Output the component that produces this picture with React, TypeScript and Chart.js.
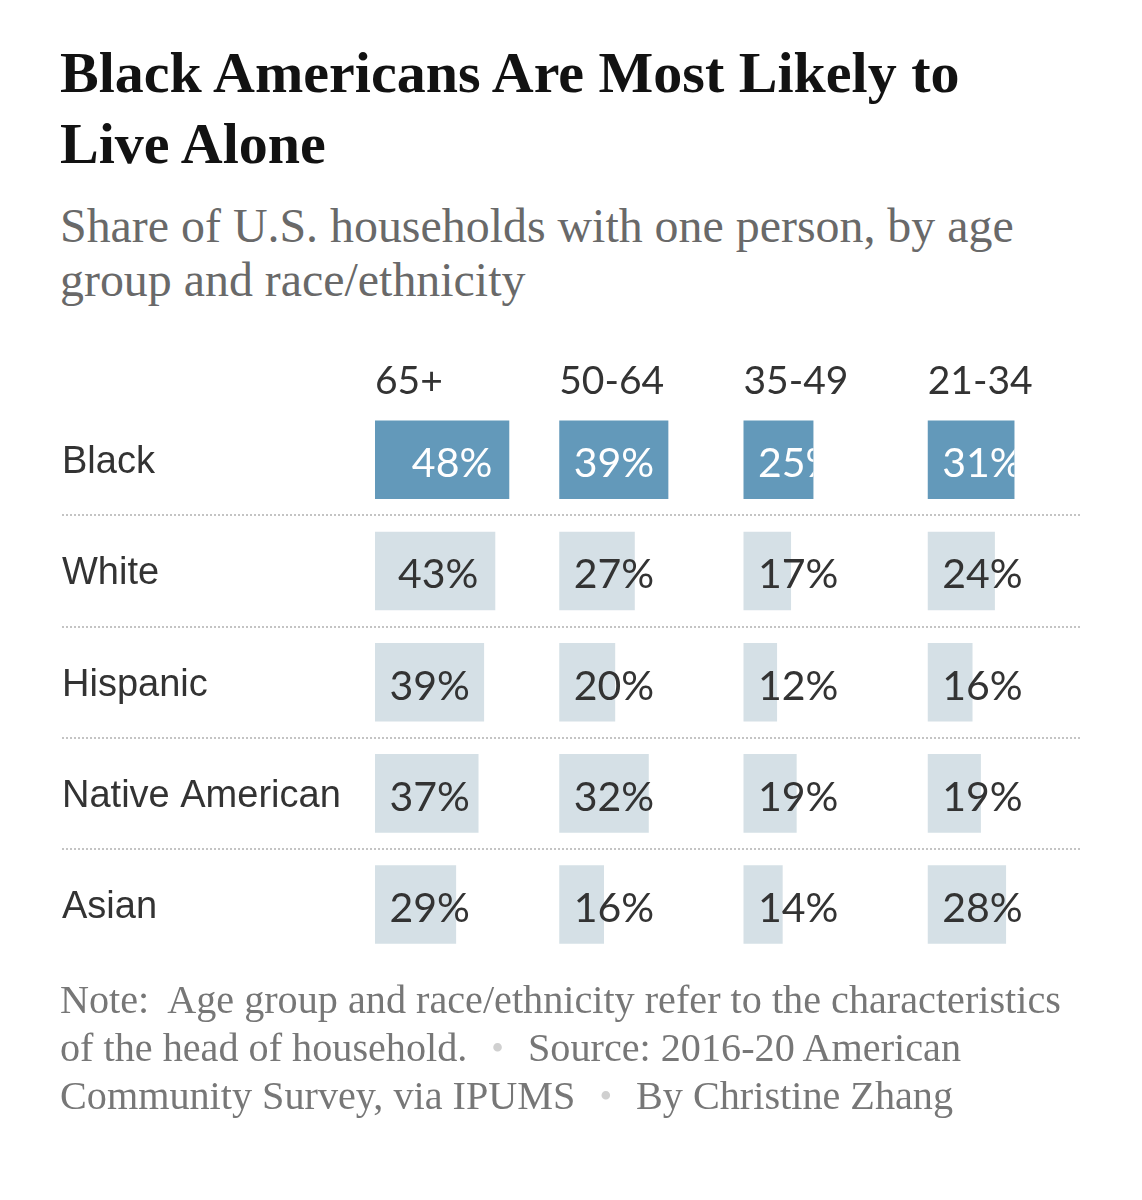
import React, { useEffect, useRef } from "react";
import { Chart, registerables } from "chart.js";

Chart.register(...registerables);

// ---- data ----
const races = ["Black", "White", "Hispanic", "Native American", "Asian"];
const ageGroups = ["65+", "50-64", "35-49", "21-34"];
const share65plus = [48, 43, 39, 37, 29];
const share50to64 = [39, 27, 20, 32, 16];
const share35to49 = [25, 17, 12, 19, 14];
const share21to34 = [31, 24, 16, 19, 28];
const seriesValues = [share65plus, share50to64, share35to49, share21to34];

// ---- layout / style constants ----
const COLUMN_STEP = 65.86; // value units between the starts of age columns
const X_MAX = 252;
const LABEL_MIN = 40; // labels sit at least this far into a column
const DARK = "#6399ba";
const LIGHT = "#d5e0e6";
const TEXT = "#333333";

export default function App() {
  const ref = useRef<HTMLCanvasElement>(null);

  useEffect(() => {
    const canvas = ref.current;
    if (!canvas) return;

    const datasets = seriesValues.map((vals, ci) => ({
      label: ageGroups[ci],
      data: vals.map((v) => [ci * COLUMN_STEP, ci * COLUMN_STEP + v]),
      backgroundColor: races.map((_, i) => (i === 0 ? DARK : LIGHT)),
      borderWidth: 0,
      grouped: false,
      categoryPercentage: 0.706,
      barPercentage: 1,
    }));

    const separators = {
      id: "separators",
      beforeDatasetsDraw(chart: any) {
        const c = chart.ctx;
        const ys = chart.scales.y;
        c.save();
        c.strokeStyle = "#c4c4c4";
        c.lineWidth = 2;
        c.setLineDash([2, 2]);
        for (let i = 0; i < races.length - 1; i++) {
          const y = Math.round((ys.getPixelForTick(i) + ys.getPixelForTick(i + 1)) / 2);
          c.beginPath();
          c.moveTo(0, y);
          c.lineTo(chart.chartArea.right, y);
          c.stroke();
        }
        c.restore();
      },
    };

    const valueLabels = {
      id: "valueLabels",
      afterDatasetsDraw(chart: any) {
        const c = chart.ctx;
        const xs = chart.scales.x;
        chart.data.datasets.forEach((_: any, di: number) => {
          const meta = chart.getDatasetMeta(di);
          const vals = seriesValues[di];
          meta.data.forEach((bar: any, ri: number) => {
            const start = di * COLUMN_STEP;
            const v = vals[ri];
            const right = xs.getPixelForValue(start + Math.max(v, LABEL_MIN)) - 17;
            const p = bar.getProps(["x", "y", "base", "height"], true);
            c.save();
            c.font = "41px Lato";
            c.textAlign = "right";
            c.textBaseline = "alphabetic";
            if (ri === 0) {
              c.beginPath();
              c.rect(p.base, p.y - p.height / 2, p.x - p.base, p.height);
              c.clip();
              c.fillStyle = "#ffffff";
            } else {
              c.fillStyle = TEXT;
            }
            c.fillText(`${v}%`, right, p.y + 17.4);
            c.restore();
          });
        });
      },
    };

    const chart = new Chart(canvas, {
      type: "bar",
      data: { labels: races, datasets: datasets as any },
      options: {
        indexAxis: "y",
        animation: false,
        responsive: false,
        devicePixelRatio: 1,
        layout: { padding: { top: 19.3, bottom: 0, left: 0, right: 12 } },
        plugins: {
          legend: { display: false },
          tooltip: { enabled: false },
          title: { display: false },
        },
        scales: {
          x: {
            type: "linear",
            position: "top",
            min: 0,
            max: X_MAX,
            grid: { display: false, drawTicks: false },
            border: { display: false },
            afterBuildTicks(scale: any) {
              scale.ticks = ageGroups.map((_, i) => ({ value: i * COLUMN_STEP }));
            },
            ticks: {
              align: "start",
              padding: -1,
              maxRotation: 0,
              autoSkip: false,
              color: TEXT,
              font: { family: "Lato", size: 39 },
              callback: (_v: any, i: number) => ageGroups[i],
            },
          },
          y: {
            type: "category",
            position: "left",
            grid: { display: false, drawTicks: false },
            border: { display: false },
            afterFit(scale: any) {
              scale.width = 313;
            },
            ticks: {
              crossAlign: "far",
              padding: 0,
              labelOffset: 3,
              color: TEXT,
              font: { family: "'Liberation Sans', Arial, sans-serif", size: 38 },
            },
          },
        },
      } as any,
      plugins: [separators, valueLabels],
    });

    return () => chart.destroy();
  }, []);

  const serif = "'Liberation Serif', 'Times New Roman', serif";
  const dot = (
    <span style={{ color: "#d0d0d0", margin: "0 24px", fontSize: 36, verticalAlign: "1px" }}>•</span>
  );

  return (
    <div style={{ position: "relative", width: 1126, height: 1150, background: "#fff" }}>
      <div
        style={{
          position: "absolute",
          left: 52,
          top: 29,
          fontFamily: serif,
          fontWeight: 700,
          fontSize: 58,
          lineHeight: "71px",
          color: "#121212",
          whiteSpace: "nowrap",
        }}
      >
        Black Americans Are Most Likely to
        <br />
        Live Alone
      </div>
      <div
        style={{
          position: "absolute",
          left: 52,
          top: 191,
          fontFamily: serif,
          fontSize: 47.9,
          lineHeight: "54px",
          color: "#696969",
          whiteSpace: "nowrap",
        }}
      >
        Share of U.S. households with one person, by age
        <br />
        group and race/ethnicity
      </div>
      <canvas
        ref={ref}
        width={1030}
        height={643}
        style={{ position: "absolute", left: 54, top: 332, width: 1030, height: 643 }}
      />
      <div
        style={{
          position: "absolute",
          left: 52,
          top: 968,
          fontFamily: serif,
          fontSize: 40.2,
          lineHeight: "47.5px",
          color: "#777777",
          whiteSpace: "nowrap",
        }}
      >
        Note:<span style={{ marginLeft: 10 }}> </span>Age group and race/ethnicity refer to the characteristics
        <br />
        of the head of household.{dot}Source: 2016-20 American
        <br />
        Community Survey, via IPUMS{dot}By Christine Zhang
      </div>
    </div>
  );
}
